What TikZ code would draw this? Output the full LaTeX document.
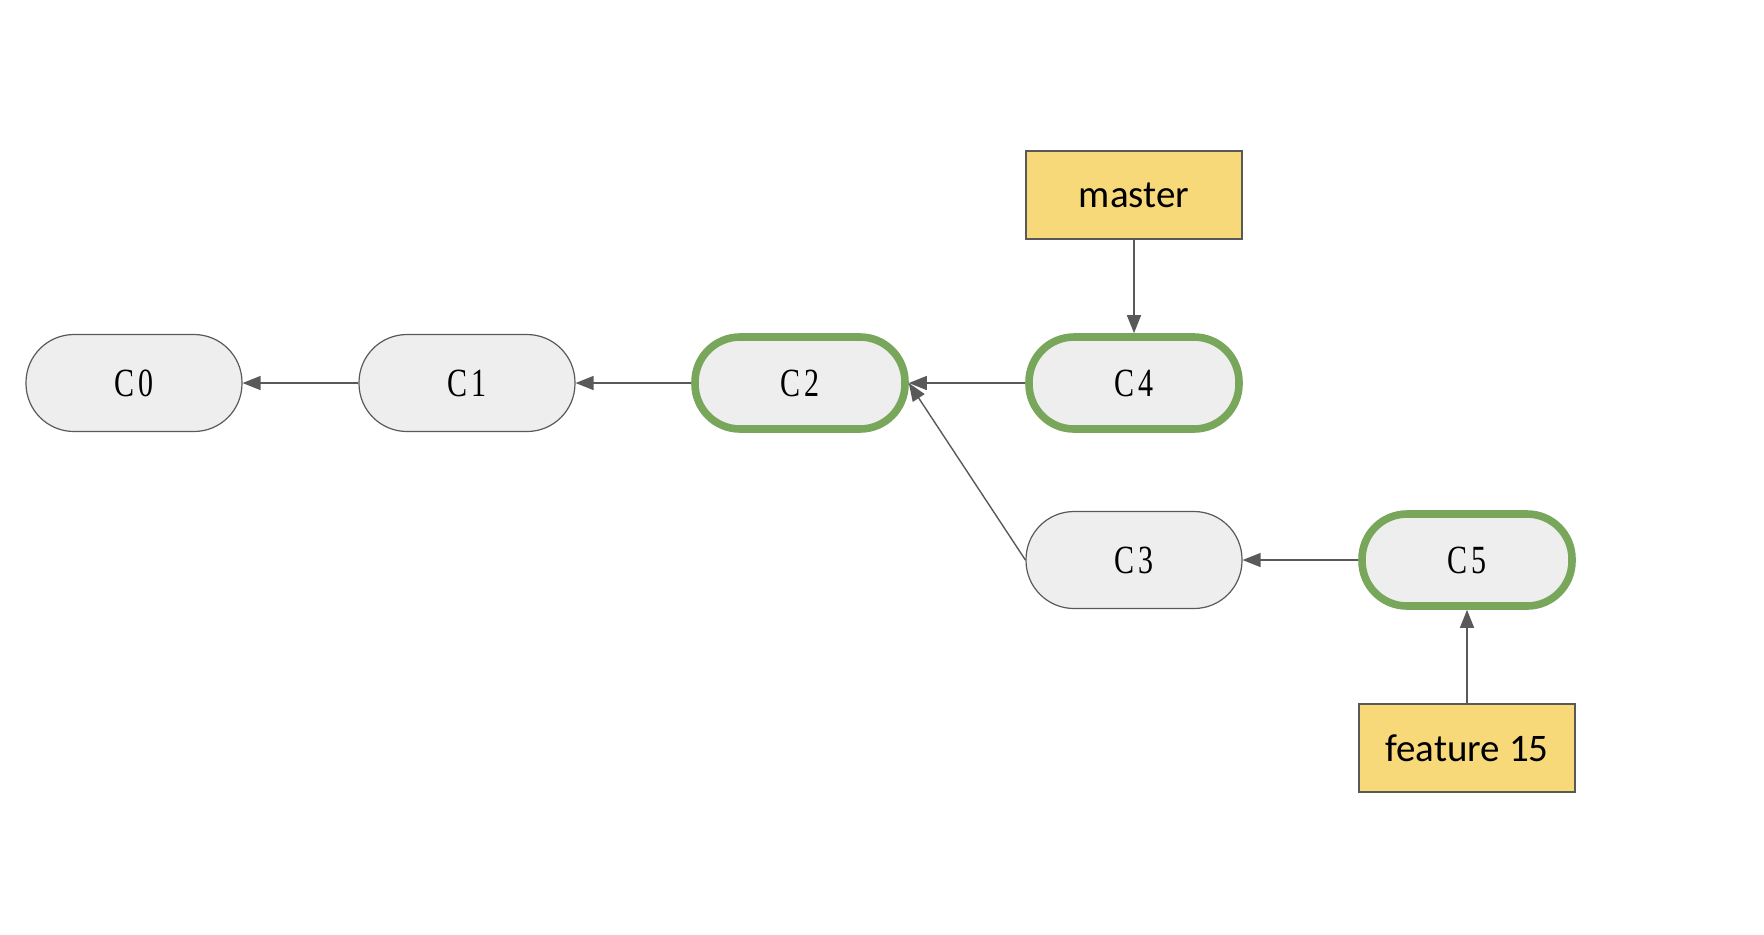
\documentclass[tikz,border=0pt]{standalone}
\usepackage{fontspec}
\setmainfont{Carlito}
\newfontfamily\commitfont{Liberation Serif}[FakeStretch=0.75,LetterSpace=12]
\usetikzlibrary{arrows.meta}
\definecolor{edgegray}{HTML}{595959}
\definecolor{commitfill}{HTML}{EEEEEE}
\definecolor{headgreen}{HTML}{78A65A}
\definecolor{branchyellow}{HTML}{F7D97A}

\begin{document}
\begin{tikzpicture}[x=0.5pt,y=-0.5pt,
  commit/.style={draw=edgegray,line width=0.6pt,fill=commitfill,minimum width=108pt,
    minimum height=48.5pt,rounded corners=24pt,inner sep=0pt,
    font=\commitfont\fontsize{20}{20}\selectfont},
  head/.style={commit,draw=headgreen,line width=3.8pt,minimum width=105pt,minimum height=46pt,rounded corners=22.5pt},
  branch/.style={draw=edgegray,line width=0.6pt,fill=branchyellow,minimum width=108pt,
    minimum height=44pt,font=\fontsize{19.5}{19.5}\selectfont},
  ptr/.style={draw=edgegray,line width=0.7pt,-{Triangle[length=9pt,width=7pt]}}]

\useasboundingbox (0,0) rectangle (1764,934);

% commits
\node[commit] (c0) at (134,383) {C0};
\node[commit] (c1) at (467,383) {C1};
\node[head]   (c2) at (800,383) {C2};
\node[head]   (c4) at (1134,383) {C4};
\node[commit] (c3) at (1134,560) {C3};
\node[head]   (c5) at (1467,560) {C5};

% branches
\node[branch] (master) at (1134,195) {\raisebox{-3pt}{master}};
\node[branch] (feat) at (1467,748) {\raisebox{-3pt}{feature 15}};

\draw[ptr](c1.west)--(c0.east);
\draw[ptr](c2.west)--(c1.east);
\draw[ptr](c4.west)--(c2.east);
\draw[ptr](c3.west)--(c2.east);
\draw[ptr](c5.west)--(c3.east);
\draw[ptr](master.south)--(c4.north);
\draw[ptr](feat.north)--(c5.south);

\end{tikzpicture}
\end{document}
